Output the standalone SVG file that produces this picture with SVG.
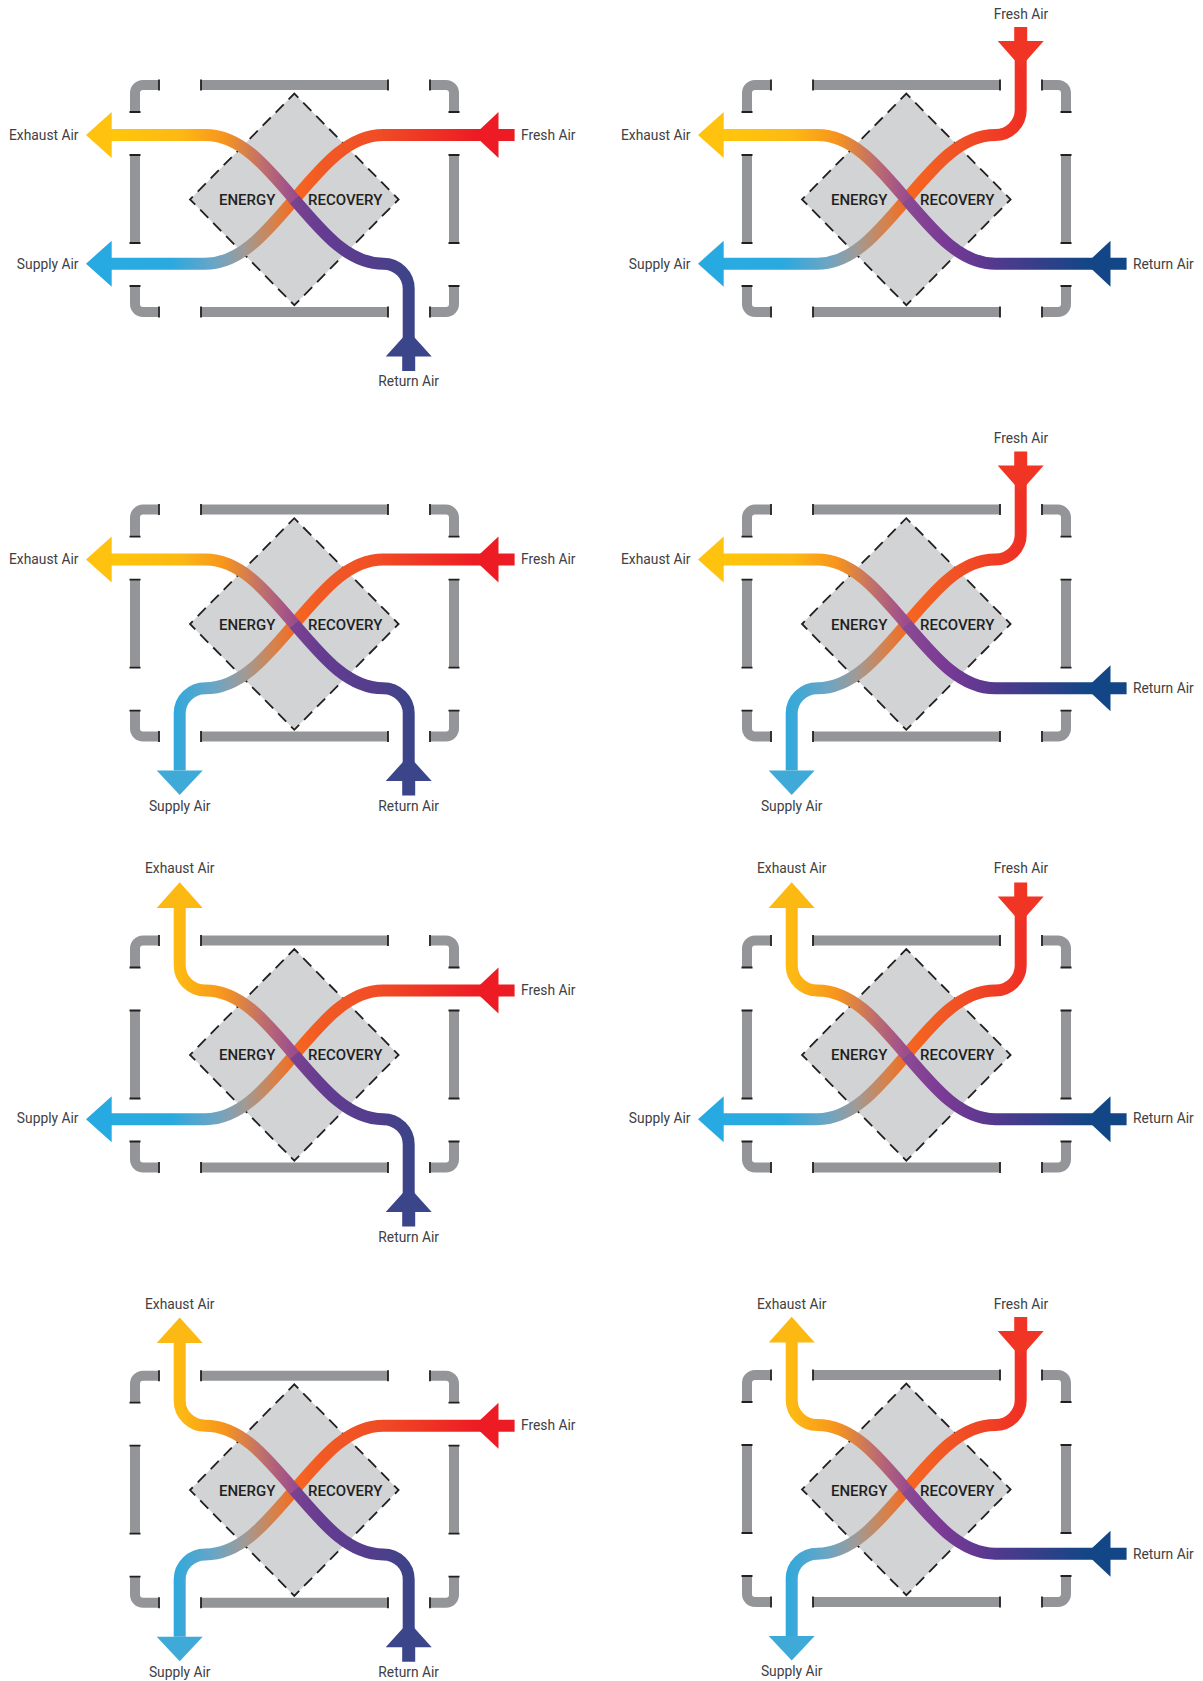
<svg xmlns="http://www.w3.org/2000/svg" width="1203" height="1681" viewBox="0 0 1203 1681">
<style>
.bar{fill:none;stroke:#939598;stroke-width:10}
.tick{fill:none;stroke:#231F20;stroke-width:1.8}
.dia{fill:#D1D3D4;stroke:#231F20;stroke-width:1.8;stroke-dasharray:11.5 7;stroke-dashoffset:5.8}
.flow{fill:none;stroke-width:12}
.lb{font-family:"Roboto","Liberation Sans",sans-serif;font-size:13.8px;fill:#414042}
.e{text-anchor:end}.m{text-anchor:middle}
.core{font-family:"Roboto","Liberation Sans",sans-serif;font-size:15px;font-weight:500;fill:#231F20}
</style>
<defs>
<linearGradient id="gEx" gradientUnits="userSpaceOnUse" x1="111" y1="0" x2="294.3" y2="0"><stop offset="0" stop-color="#FFC60B"/><stop offset=".38" stop-color="#FDB913"/><stop offset=".62" stop-color="#F7941D"/><stop offset=".82" stop-color="#C0706C"/><stop offset="1" stop-color="#9B4C8F"/></linearGradient>
<linearGradient id="gSup" gradientUnits="userSpaceOnUse" x1="111" y1="0" x2="294.3" y2="0"><stop offset="0" stop-color="#29ABE2"/><stop offset=".33" stop-color="#2BA9DF"/><stop offset=".57" stop-color="#6CA5C4"/><stop offset=".73" stop-color="#A09A96"/><stop offset=".9" stop-color="#D98048"/><stop offset="1" stop-color="#F26B22"/></linearGradient>
<linearGradient id="gFr" gradientUnits="userSpaceOnUse" x1="294.3" y1="0" x2="475" y2="0"><stop offset="0" stop-color="#F7661F"/><stop offset=".15" stop-color="#F15A24"/><stop offset=".45" stop-color="#F04E25"/><stop offset="1" stop-color="#ED1C24"/></linearGradient>
<linearGradient id="gFrU" gradientUnits="userSpaceOnUse" x1="294.3" y1="0" x2="408.7" y2="0"><stop offset="0" stop-color="#F7661F"/><stop offset=".3" stop-color="#F15A24"/><stop offset="1" stop-color="#EF3024"/></linearGradient>
<linearGradient id="gRe" gradientUnits="userSpaceOnUse" x1="294.3" y1="0" x2="475" y2="0"><stop offset="0" stop-color="#8A4A92"/><stop offset=".2" stop-color="#7B3A96"/><stop offset=".5" stop-color="#52398D"/><stop offset="1" stop-color="#134686"/></linearGradient>
<linearGradient id="gReD" gradientUnits="userSpaceOnUse" x1="294.3" y1="0" x2="408.7" y2="0"><stop offset="0" stop-color="#7A4290"/><stop offset=".25" stop-color="#643C91"/><stop offset=".75" stop-color="#4F3E8B"/><stop offset="1" stop-color="#3C4488"/></linearGradient>
<g id="frame">
<path class="bar" d="M158.5 85H143A8 8 0 0 0 135 93V112"/><path class="bar" d="M201 85H388"/><path class="bar" d="M430.5 85H446A8 8 0 0 1 454 93V112"/>
<path class="bar" d="M135 155V243"/><path class="bar" d="M454 155V243"/>
<path class="bar" d="M158.5 312H143A8 8 0 0 1 135 304V286"/><path class="bar" d="M201 312H388"/><path class="bar" d="M430.5 312H446A8 8 0 0 0 454 304V286"/>
<path class="tick" d="M159 79.5V90.5M201 79.5V90.5M388 79.5V90.5M430 79.5V90.5M129.5 112H140.5M448.5 112H459.5M129.5 155H140.5M448.5 155H459.5M129.5 243H140.5M448.5 243H459.5M129.5 286H140.5M448.5 286H459.5M159 306.5V317.5M201 306.5V317.5M388 306.5V317.5M430 306.5V317.5"/>
</g>
<polygon id="diamond" class="dia" points="294.3,93.6 398.6,199.4 294.3,305.2 190,199.4"/>
<g id="ex"><path class="flow" stroke="url(#gEx)" d="M111 135H205.3C240 135 265 165 294.3 199.4"/><polygon fill="#FFC20E" points="86,135 111.7,112 111.7,158"/></g>
<g id="exU"><path class="flow" stroke="url(#gEx)" d="M179.7 52V110A25.6 25 0 0 0 205.3 135C240 135 265 165 294.3 199.4"/><polygon fill="#FDB913" points="179.7,26.8 202.7,52.4 156.7,52.4"/></g>
<g id="sup"><path class="flow" stroke="url(#gSup)" d="M111 263.7H205.3C240 263.7 265 233.8 294.3 199.4"/><polygon fill="#27AAE1" points="86,263.7 111.7,240.7 111.7,286.7"/></g>
<g id="supD"><path class="flow" stroke="url(#gSup)" d="M179.7 346V288.7A25.6 25 0 0 1 205.3 263.7C240 263.7 265 233.8 294.3 199.4"/><polygon fill="#3FA9D8" points="179.7,370.5 202.7,346 156.7,346"/></g>
<g id="fr"><path class="flow" stroke="url(#gFr)" d="M490 135H383.3C348.6 135 323.6 165 294.3 199.4"/><polygon fill="#ED1C24" points="474,135 498.5,112 498.5,129 514.6,129 514.6,141 498.5,141 498.5,158"/></g>
<g id="frU"><path class="flow" stroke="url(#gFrU)" d="M408.7 50V110A25.4 25 0 0 1 383.3 135C348.6 135 323.6 165 294.3 199.4"/><polygon fill="#F03524" points="408.7,67 385.7,41 402.2,41 402.2,27 415.2,27 415.2,41 431.7,41"/></g>
<g id="re"><path class="flow" stroke="url(#gRe)" d="M294.3 199.4C323.6 233.8 348.6 263.7 383.3 263.7H490"/><polygon fill="#134686" points="474,263.7 498.5,240.7 498.5,257.7 514.6,257.7 514.6,269.7 498.5,269.7 498.5,286.7"/></g>
<g id="reD"><path class="flow" stroke="url(#gReD)" d="M294.3 199.4C323.6 233.8 348.6 263.7 383.3 263.7A25.4 25 0 0 1 408.7 288.7V348"/><polygon fill="#3B4589" points="408.7,331 431.7,356.5 415.2,356.5 415.2,371 402.2,371 402.2,356.5 385.7,356.5"/></g>
</defs>

<g id="panel-1">
<g id="p1-frame"><use href="#frame"/></g>
<g id="p1-core"><use href="#diamond"/><text class="core" x="219" y="205">ENERGY</text><text class="core" x="308" y="205">RECOVERY</text></g>
<g id="p1-connectors"><use href="#sup"/><use href="#fr"/><use href="#ex"/><use href="#reD"/></g>
<text class="lb e" x="78.5" y="139.6">Exhaust Air</text><text class="lb e" x="78.5" y="268.6">Supply Air</text><text class="lb" x="521" y="139.6">Fresh Air</text><text class="lb m" x="408.7" y="386">Return Air</text>
</g>

<g id="panel-2" transform="translate(612 0)">
<g id="p2-frame"><use href="#frame"/></g>
<g id="p2-core"><use href="#diamond"/><text class="core" x="219" y="205">ENERGY</text><text class="core" x="308" y="205">RECOVERY</text></g>
<g id="p2-connectors"><use href="#sup"/><use href="#frU"/><use href="#ex"/><use href="#re"/></g>
<text class="lb e" x="78.5" y="139.6">Exhaust Air</text><text class="lb e" x="78.5" y="268.6">Supply Air</text><text class="lb m" x="409" y="18.6">Fresh Air</text><text class="lb" x="521" y="268.6">Return Air</text>
</g>

<g id="panel-3" transform="translate(0 424.6)">
<g id="p3-frame"><use href="#frame"/></g>
<g id="p3-core"><use href="#diamond"/><text class="core" x="219" y="205">ENERGY</text><text class="core" x="308" y="205">RECOVERY</text></g>
<g id="p3-connectors"><use href="#supD"/><use href="#fr"/><use href="#ex"/><use href="#reD"/></g>
<text class="lb e" x="78.5" y="139.6">Exhaust Air</text><text class="lb m" x="179.7" y="386">Supply Air</text><text class="lb" x="521" y="139.6">Fresh Air</text><text class="lb m" x="408.7" y="386">Return Air</text>
</g>

<g id="panel-4" transform="translate(612 424.6)">
<g id="p4-frame"><use href="#frame"/></g>
<g id="p4-core"><use href="#diamond"/><text class="core" x="219" y="205">ENERGY</text><text class="core" x="308" y="205">RECOVERY</text></g>
<g id="p4-connectors"><use href="#supD"/><use href="#frU"/><use href="#ex"/><use href="#re"/></g>
<text class="lb e" x="78.5" y="139.6">Exhaust Air</text><text class="lb m" x="179.7" y="386">Supply Air</text><text class="lb m" x="409" y="18.6">Fresh Air</text><text class="lb" x="521" y="268.6">Return Air</text>
</g>

<g id="panel-5" transform="translate(0 855.5)">
<g id="p5-frame"><use href="#frame"/></g>
<g id="p5-core"><use href="#diamond"/><text class="core" x="219" y="204.5">ENERGY</text><text class="core" x="308" y="204.5">RECOVERY</text></g>
<g id="p5-connectors"><use href="#sup"/><use href="#fr"/><use href="#exU"/><use href="#reD"/></g>
<text class="lb m" x="179.7" y="17.6">Exhaust Air</text><text class="lb e" x="78.5" y="267.6">Supply Air</text><text class="lb" x="521" y="139.6">Fresh Air</text><text class="lb m" x="408.7" y="386">Return Air</text>
</g>

<g id="panel-6" transform="translate(612 855.5)">
<g id="p6-frame"><use href="#frame"/></g>
<g id="p6-core"><use href="#diamond"/><text class="core" x="219" y="204.5">ENERGY</text><text class="core" x="308" y="204.5">RECOVERY</text></g>
<g id="p6-connectors"><use href="#sup"/><use href="#frU"/><use href="#exU"/><use href="#re"/></g>
<text class="lb m" x="179.7" y="17.6">Exhaust Air</text><text class="lb e" x="78.5" y="267.6">Supply Air</text><text class="lb m" x="409" y="17.6">Fresh Air</text><text class="lb" x="521" y="267.6">Return Air</text>
</g>

<g id="panel-7" transform="translate(0 1290.7)">
<g id="p7-frame"><use href="#frame"/></g>
<g id="p7-core"><use href="#diamond"/><text class="core" x="219" y="205">ENERGY</text><text class="core" x="308" y="205">RECOVERY</text></g>
<g id="p7-connectors"><use href="#supD"/><use href="#fr"/><use href="#exU"/><use href="#reD"/></g>
<text class="lb m" x="179.7" y="18.6">Exhaust Air</text><text class="lb m" x="179.7" y="386">Supply Air</text><text class="lb" x="521" y="139.6">Fresh Air</text><text class="lb m" x="408.7" y="386">Return Air</text>
</g>

<g id="panel-8" transform="translate(612 1290)">
<g id="p8-frame"><use href="#frame"/></g>
<g id="p8-core"><use href="#diamond"/><text class="core" x="219" y="205.5">ENERGY</text><text class="core" x="308" y="205.5">RECOVERY</text></g>
<g id="p8-connectors"><use href="#supD"/><use href="#frU"/><use href="#exU"/><use href="#re"/></g>
<text class="lb m" x="179.7" y="18.6">Exhaust Air</text><text class="lb m" x="179.7" y="386">Supply Air</text><text class="lb m" x="409" y="18.6">Fresh Air</text><text class="lb" x="521" y="268.6">Return Air</text>
</g>
</svg>
